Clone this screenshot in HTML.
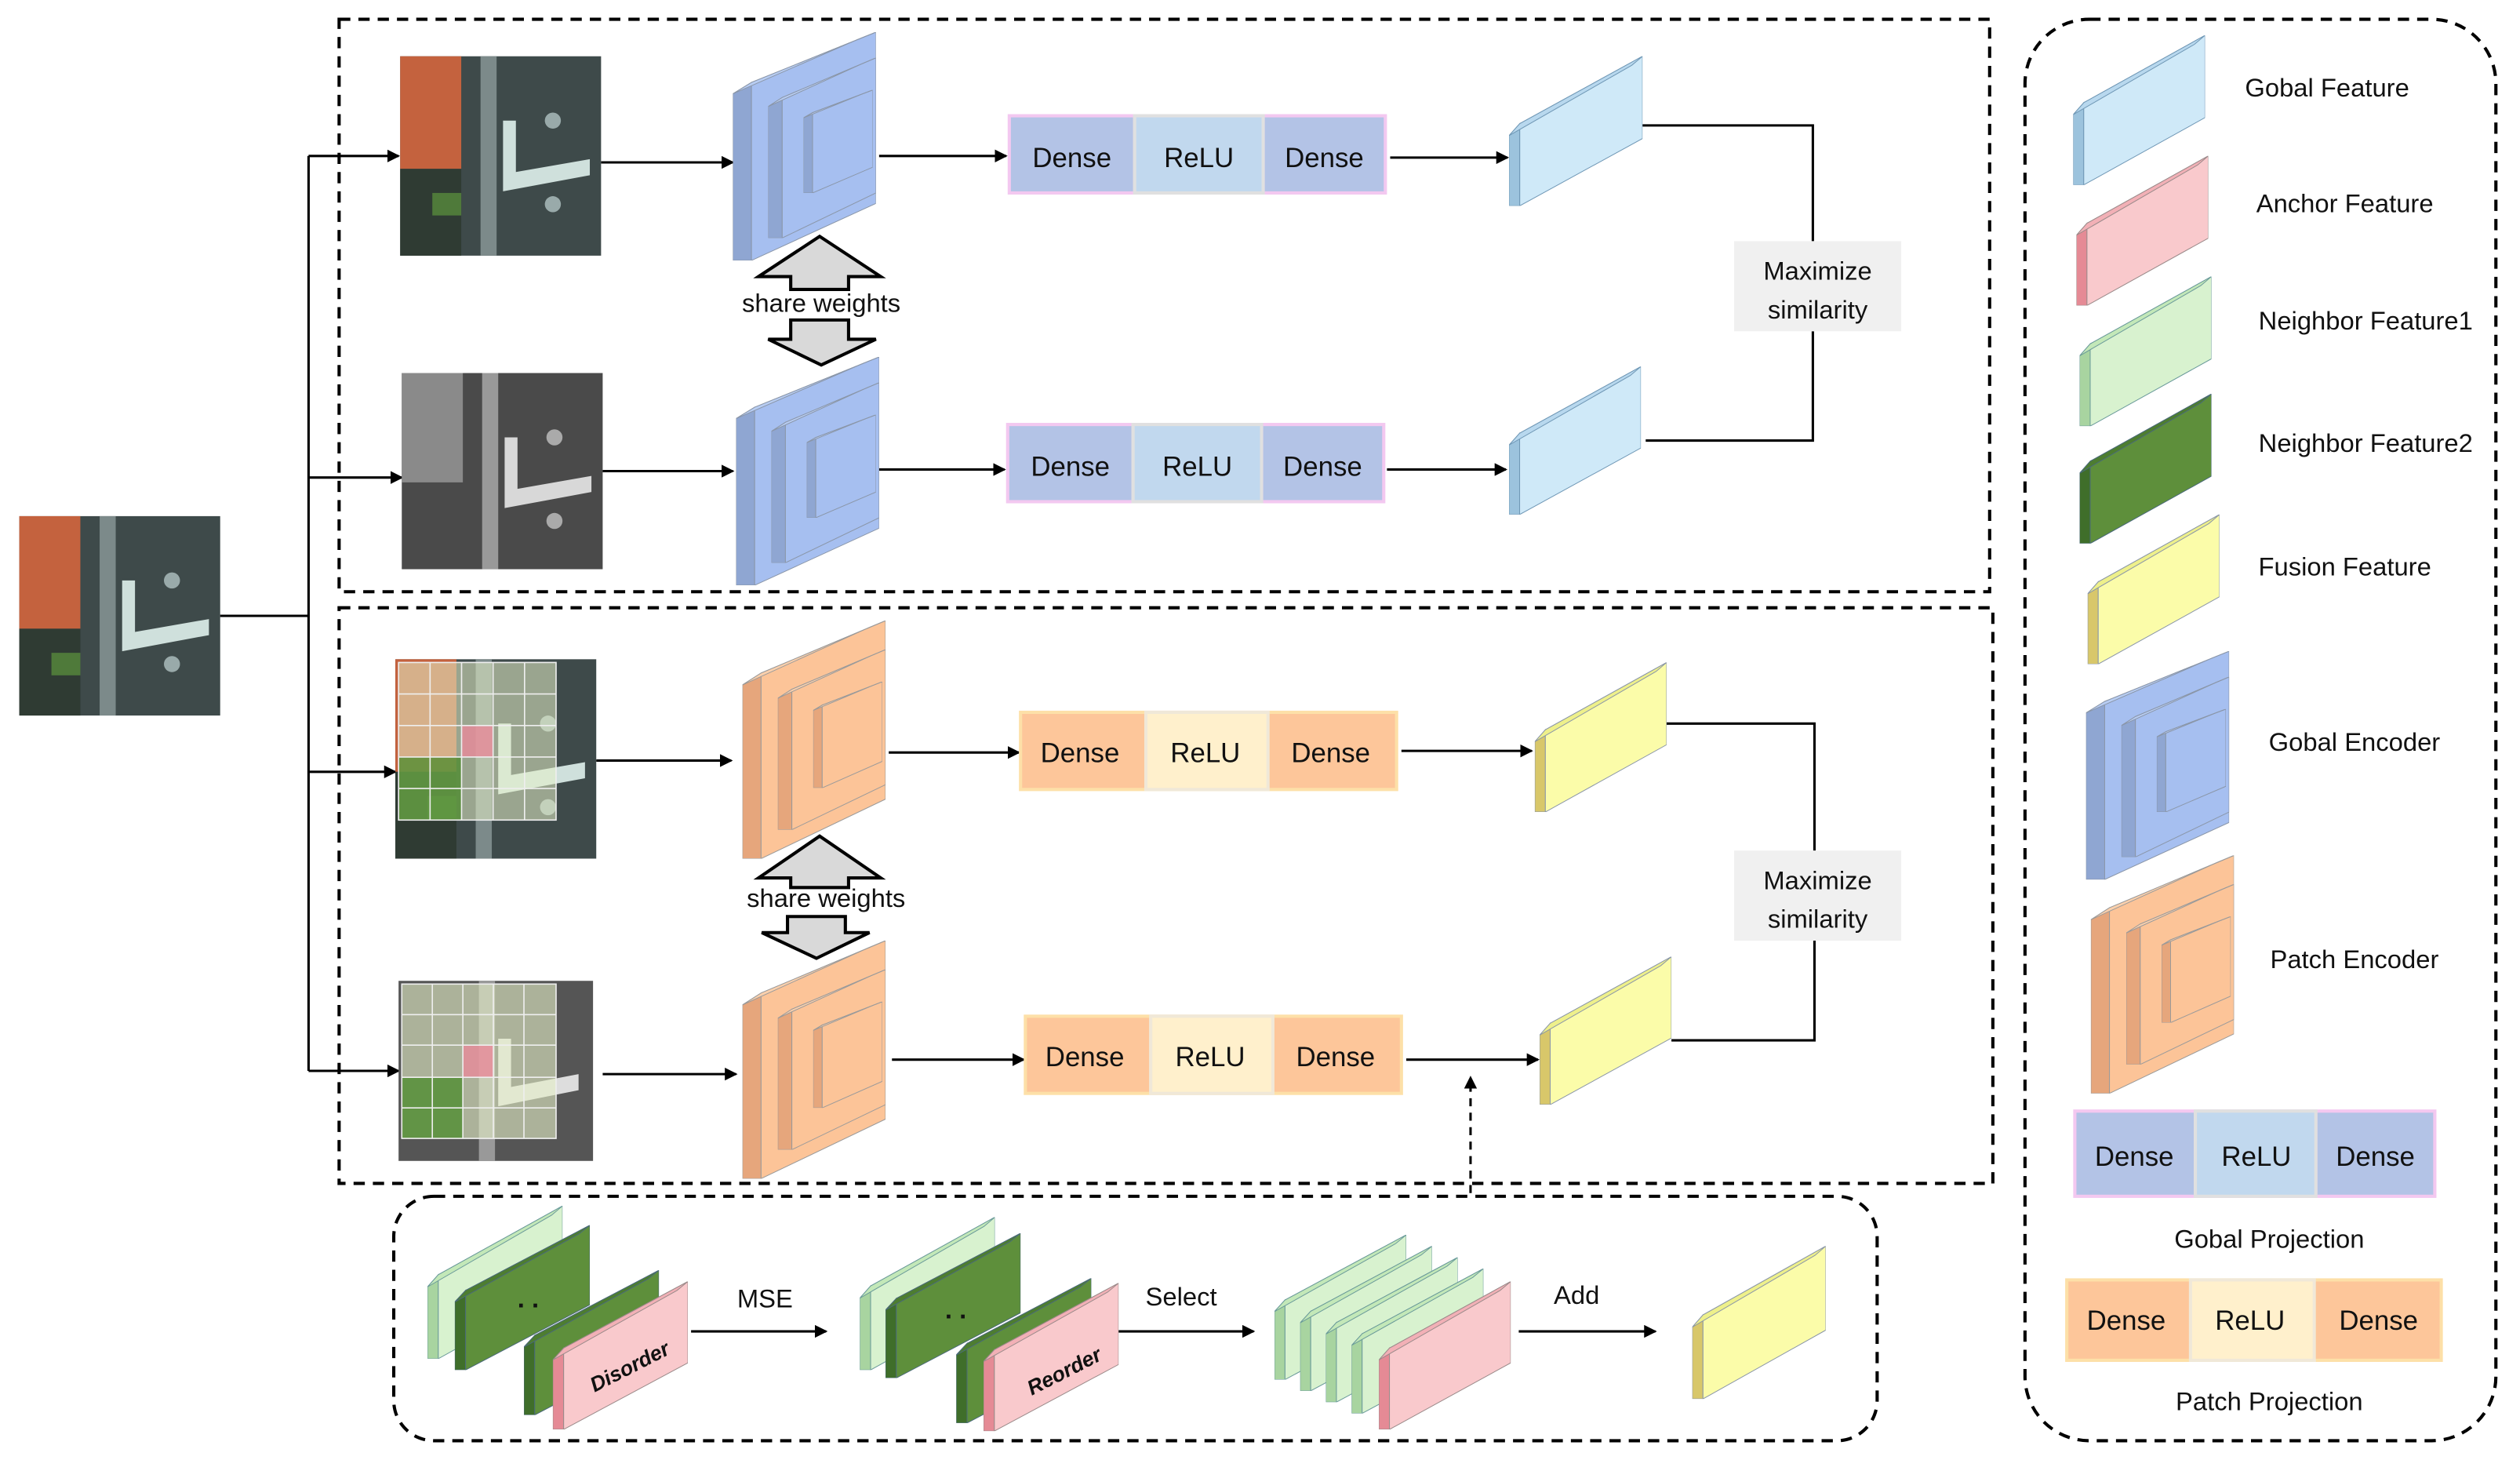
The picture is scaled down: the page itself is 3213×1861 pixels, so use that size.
<!DOCTYPE html>
<html><head><meta charset="utf-8"><style>
html,body{margin:0;padding:0;background:#fff;width:3213px;height:1861px;overflow:hidden}
svg{display:block}
text{font-family:"Liberation Sans","DejaVu Sans",sans-serif;fill:#111}
</style></head><body>
<svg width="3213" height="1861" viewBox="0 0 1568 908" preserveAspectRatio="none" xmlns="http://www.w3.org/2000/svg">
<defs>
<marker id="ah" markerWidth="8" markerHeight="8" refX="7" refY="4" orient="auto" markerUnits="userSpaceOnUse"><path d="M0,0 L8,4 L0,8 z" fill="#000"/></marker>
<symbol id="slabB" viewBox="0 0 100 100" preserveAspectRatio="none"><polygon points="0,53 8,45 8,100 0,100" fill="#9cc3dd" stroke="#6f97b5" vector-effect="non-scaling-stroke"/><polygon points="8,45 100,0 100,55 8,100" fill="#cfe9f8" stroke="#6f97b5" vector-effect="non-scaling-stroke"/><polygon points="0,53 92,6 100,0 8,45" fill="#b8d8ee" stroke="#6f97b5" vector-effect="non-scaling-stroke"/></symbol>
<symbol id="slabP" viewBox="0 0 100 100" preserveAspectRatio="none"><polygon points="0,53 8,45 8,100 0,100" fill="#e58a95" stroke="#9a8a8a" vector-effect="non-scaling-stroke"/><polygon points="8,45 100,0 100,55 8,100" fill="#f9c9cc" stroke="#9a8a8a" vector-effect="non-scaling-stroke"/><polygon points="0,53 92,6 100,0 8,45" fill="#f2b0b6" stroke="#9a8a8a" vector-effect="non-scaling-stroke"/></symbol>
<symbol id="slabG" viewBox="0 0 100 100" preserveAspectRatio="none"><polygon points="0,53 8,45 8,100 0,100" fill="#a8d4a0" stroke="#6a9a9a" vector-effect="non-scaling-stroke"/><polygon points="8,45 100,0 100,55 8,100" fill="#d8f2cf" stroke="#6a9a9a" vector-effect="non-scaling-stroke"/><polygon points="0,53 92,6 100,0 8,45" fill="#c3e8b8" stroke="#6a9a9a" vector-effect="non-scaling-stroke"/></symbol>
<symbol id="slabD" viewBox="0 0 100 100" preserveAspectRatio="none"><polygon points="0,53 8,45 8,100 0,100" fill="#3f6e2a" stroke="#4a6a7a" vector-effect="non-scaling-stroke"/><polygon points="8,45 100,0 100,55 8,100" fill="#5e8f3b" stroke="#4a6a7a" vector-effect="non-scaling-stroke"/><polygon points="0,53 92,6 100,0 8,45" fill="#4d7d30" stroke="#4a6a7a" vector-effect="non-scaling-stroke"/></symbol>
<symbol id="slabY" viewBox="0 0 100 100" preserveAspectRatio="none"><polygon points="0,53 8,45 8,100 0,100" fill="#d8c76a" stroke="#8a96a8" vector-effect="non-scaling-stroke"/><polygon points="8,45 100,0 100,55 8,100" fill="#fbfca9" stroke="#8a96a8" vector-effect="non-scaling-stroke"/><polygon points="0,53 92,6 100,0 8,45" fill="#eef08a" stroke="#8a96a8" vector-effect="non-scaling-stroke"/></symbol>
<symbol id="boxB" viewBox="0 0 100 100" preserveAspectRatio="none"><polygon points="0,27 13,22 13,100 0,100" fill="#8fa6d2" stroke="#8a96a8" vector-effect="non-scaling-stroke"/><polygon points="13,22 100,0 100,75 13,100" fill="#a6bff0" stroke="#8a96a8" vector-effect="non-scaling-stroke"/><polygon points="0,27 88,3 100,0 13,22" fill="#b8cdf3" stroke="#8a96a8" vector-effect="non-scaling-stroke"/></symbol>
<symbol id="boxO" viewBox="0 0 100 100" preserveAspectRatio="none"><polygon points="0,27 13,22 13,100 0,100" fill="#e6a67c" stroke="#9a9a9a" vector-effect="non-scaling-stroke"/><polygon points="13,22 100,0 100,75 13,100" fill="#fcc498" stroke="#9a9a9a" vector-effect="non-scaling-stroke"/><polygon points="0,27 88,3 100,0 13,22" fill="#fbd0ac" stroke="#9a9a9a" vector-effect="non-scaling-stroke"/></symbol>
<g id="encB"><use href="#boxB" x="0" y="0" width="89" height="142"/><use href="#boxB" x="22" y="16" width="67" height="112"/><use href="#boxB" x="44" y="36" width="43" height="64"/></g>
<g id="encO"><use href="#boxO" x="0" y="0" width="89" height="148"/><use href="#boxO" x="22" y="18" width="67" height="112"/><use href="#boxO" x="44" y="38" width="43" height="66"/></g>
<g id="imgColor"><rect width="125" height="124" fill="#3e4a4a"/><rect x="0" y="0" width="38" height="70" fill="#c4623e"/><rect x="0" y="70" width="38" height="54" fill="#2f3b33"/><rect x="50" y="0" width="10" height="124" fill="#7c8a8a"/><path d="M64,40 L72,40 L72,72 L118,64 L118,74 L64,84 z" fill="#cfe0dc"/><rect x="20" y="85" width="18" height="14" fill="#4f7a3a"/><circle cx="95" cy="40" r="5" fill="#9aa"/><circle cx="95" cy="92" r="5" fill="#9aa"/></g>
<g id="imgGray"><rect width="125" height="122" fill="#4a4a4a"/><rect x="0" y="0" width="38" height="68" fill="#8a8a8a"/><rect x="50" y="0" width="10" height="122" fill="#999"/><path d="M64,40 L72,40 L72,72 L118,64 L118,74 L64,84 z" fill="#d8d8d8"/><circle cx="95" cy="40" r="5" fill="#aaa"/><circle cx="95" cy="92" r="5" fill="#aaa"/></g>
</defs>

<g fill="none" stroke="#000" stroke-width="2" stroke-dasharray="7,5">
<rect x="211" y="12" width="1027" height="356"/>
<rect x="211" y="378" width="1029" height="358"/>
<rect x="245" y="744" width="923" height="152" rx="25"/>
<rect x="1260" y="12" width="293" height="884" rx="40"/>
</g>

<use href="#imgColor" x="12" y="321"/>
<g stroke="#000" stroke-width="1.5" fill="none">
<line x1="137" y1="383" x2="192" y2="383"/>
<line x1="192" y1="97" x2="192" y2="666"/>
<line x1="192" y1="97" x2="248" y2="97" marker-end="url(#ah)"/>
<line x1="192" y1="297" x2="250" y2="297" marker-end="url(#ah)"/>
<line x1="192" y1="480" x2="246" y2="480" marker-end="url(#ah)"/>
<line x1="192" y1="666" x2="248" y2="666" marker-end="url(#ah)"/>
<line x1="374" y1="101" x2="456" y2="101" marker-end="url(#ah)"/>
<line x1="375" y1="293" x2="456" y2="293" marker-end="url(#ah)"/>
<line x1="371" y1="473" x2="455" y2="473" marker-end="url(#ah)"/>
<line x1="375" y1="668" x2="458" y2="668" marker-end="url(#ah)"/>
<line x1="547" y1="97" x2="626" y2="97" marker-end="url(#ah)"/>
<line x1="547" y1="292" x2="625" y2="292" marker-end="url(#ah)"/>
<line x1="553" y1="468" x2="634" y2="468" marker-end="url(#ah)"/>
<line x1="555" y1="659" x2="637" y2="659" marker-end="url(#ah)"/>
<line x1="865" y1="98" x2="938" y2="98" marker-end="url(#ah)"/>
<line x1="863" y1="292" x2="937" y2="292" marker-end="url(#ah)"/>
<line x1="872" y1="467" x2="953" y2="467" marker-end="url(#ah)"/>
<line x1="875" y1="659" x2="957" y2="659" marker-end="url(#ah)"/>
<polyline points="1022,78 1128,78 1128,150"/>
<polyline points="1128,206 1128,274 1024,274"/>
<polyline points="1037,450 1129,450 1129,529"/>
<polyline points="1129,585 1129,647 1040,647"/>
<line x1="915" y1="742" x2="915" y2="670" stroke-dasharray="5,4" marker-end="url(#ah)"/>
<line x1="430" y1="828" x2="514" y2="828" marker-end="url(#ah)"/>
<line x1="696" y1="828" x2="780" y2="828" marker-end="url(#ah)"/>
<line x1="945" y1="828" x2="1030" y2="828" marker-end="url(#ah)"/>
</g>

<use href="#imgColor" x="249" y="35"/>
<use href="#imgGray" x="250" y="232"/>
<g transform="translate(246,410)"><use href="#imgColor"/>
<rect x="2" y="2" width="98" height="98" fill="#e6f0c8" opacity="0.55"/>
<rect x="2" y="61" width="39" height="39" fill="#4a8a2a" opacity="0.75"/>
<rect x="41" y="41" width="20" height="20" fill="#e88a9a" opacity="0.8"/>
<g stroke="#eee" stroke-width="0.8" fill="none"><rect x="2" y="2" width="98" height="98"/><path d="M21.6,2V100M41.2,2V100M60.8,2V100M80.4,2V100M2,21.6H100M2,41.2H100M2,60.8H100M2,80.4H100"/></g></g>
<g transform="translate(248,610)"><rect width="121" height="112" fill="#555"/><rect x="50" y="0" width="10" height="112" fill="#999"/><path d="M62,36 L70,36 L70,66 L112,58 L112,68 L62,78 z" fill="#ddd"/>
<rect x="2" y="2" width="96" height="96" fill="#e6f0c8" opacity="0.6"/>
<rect x="2" y="60" width="38" height="38" fill="#4a8a2a" opacity="0.75"/>
<rect x="40" y="40" width="19" height="20" fill="#e88a9a" opacity="0.8"/>
<g stroke="#eee" stroke-width="0.8" fill="none"><rect x="2" y="2" width="96" height="96"/><path d="M21,2V98M40,2V98M59,2V98M78,2V98M2,21H98M2,40H98M2,60H98M2,79H98"/></g></g>

<use href="#encB" x="456" y="20"/>
<use href="#encB" x="458" y="222"/>
<use href="#encO" x="462" y="386"/>
<use href="#encO" x="462" y="585"/>

<g fill="#d9d9d9" stroke="#000" stroke-width="2">
<polygon points="472,172 510,147 548,172 528,172 528,180 492,180 492,172"/>
<polygon points="492,199 528,199 528,211 545,211 511,227 478,211 492,211"/>
<polygon points="472,546 510,520 548,546 528,546 528,552 492,552 492,546"/>
<polygon points="490,570 526,570 526,580 541,580 508,596 474,580 490,580"/>
</g>
<text x="511" y="194" font-size="16" text-anchor="middle">share weights</text>
<text x="514" y="564" font-size="16" text-anchor="middle">share weights</text>

<g font-size="17" text-anchor="middle">
<g transform="translate(627,71)"><rect width="236" height="50" fill="#f3c8f0"/><rect x="2" y="2" width="76" height="46" fill="#b3c3e6"/><rect x="78" y="0" width="82" height="50" fill="#e0e0e0"/><rect x="80" y="2" width="78" height="46" fill="#c1d8ee"/><rect x="160" y="2" width="74" height="46" fill="#b3c3e6"/><text x="40" y="33">Dense</text><text x="119" y="33">ReLU</text><text x="197" y="33">Dense</text></g>
<g transform="translate(626,263)"><rect width="236" height="50" fill="#f3c8f0"/><rect x="2" y="2" width="76" height="46" fill="#b3c3e6"/><rect x="78" y="0" width="82" height="50" fill="#e0e0e0"/><rect x="80" y="2" width="78" height="46" fill="#c1d8ee"/><rect x="160" y="2" width="74" height="46" fill="#b3c3e6"/><text x="40" y="33">Dense</text><text x="119" y="33">ReLU</text><text x="197" y="33">Dense</text></g>
<g transform="translate(634,442)"><rect width="236" height="50" fill="#fde0a8"/><rect x="2" y="2" width="76" height="46" fill="#fdc69a"/><rect x="78" y="0" width="78" height="50" fill="#f0e8d8"/><rect x="80" y="2" width="74" height="46" fill="#fff0cc"/><rect x="156" y="2" width="78" height="46" fill="#fdc69a"/><text x="38" y="32">Dense</text><text x="116" y="32">ReLU</text><text x="194" y="32">Dense</text></g>
<g transform="translate(637,631)"><rect width="236" height="50" fill="#fde0a8"/><rect x="2" y="2" width="76" height="46" fill="#fdc69a"/><rect x="78" y="0" width="78" height="50" fill="#f0e8d8"/><rect x="80" y="2" width="74" height="46" fill="#fff0cc"/><rect x="156" y="2" width="78" height="46" fill="#fdc69a"/><text x="38" y="32">Dense</text><text x="116" y="32">ReLU</text><text x="194" y="32">Dense</text></g>
</g>

<use href="#slabB" x="939" y="35" width="83" height="93"/>
<use href="#slabB" x="939" y="228" width="82" height="92"/>
<use href="#slabY" x="955" y="412" width="82" height="93"/>
<use href="#slabY" x="958" y="595" width="82" height="92"/>

<rect x="1079" y="150" width="104" height="56" fill="#f0f0f0"/>
<text x="1131" y="174" font-size="16" text-anchor="middle">Maximize</text><text x="1131" y="198" font-size="16" text-anchor="middle">similarity</text>
<rect x="1079" y="529" width="104" height="56" fill="#f0f0f0"/>
<text x="1131" y="553" font-size="16" text-anchor="middle">Maximize</text><text x="1131" y="577" font-size="16" text-anchor="middle">similarity</text>

<use href="#slabG" x="266" y="750" width="84" height="95"/>
<use href="#slabD" x="283" y="762" width="84" height="90"/>
<text x="322" y="813" font-size="16" font-weight="bold">. .</text>
<use href="#slabD" x="326" y="790" width="84" height="90"/>
<use href="#slabP" x="344" y="797" width="84" height="92"/>
<text x="0" y="0" font-size="13" font-weight="bold" font-style="italic" transform="translate(370,866) rotate(-27)">Disorder</text>
<text x="476" y="813" font-size="16" text-anchor="middle">MSE</text>

<use href="#slabG" x="535" y="757" width="84" height="95"/>
<use href="#slabD" x="551" y="767" width="84" height="90"/>
<text x="588" y="820" font-size="16" font-weight="bold">. .</text>
<use href="#slabD" x="595" y="795" width="84" height="90"/>
<use href="#slabP" x="612" y="798" width="84" height="92"/>
<text x="0" y="0" font-size="13" font-weight="bold" font-style="italic" transform="translate(642,868) rotate(-27)">Reorder</text>
<text x="735" y="812" font-size="16" text-anchor="middle">Select</text>

<use href="#slabG" x="793" y="768" width="82" height="90"/>
<use href="#slabG" x="809" y="775" width="82" height="90"/>
<use href="#slabG" x="825" y="782" width="82" height="90"/>
<use href="#slabG" x="841" y="789" width="82" height="90"/>
<use href="#slabP" x="858" y="797" width="82" height="92"/>
<text x="981" y="811" font-size="16" text-anchor="middle">Add</text>
<use href="#slabY" x="1053" y="775" width="83" height="95"/>

<use href="#slabB" x="1290" y="22" width="82" height="93"/>
<use href="#slabP" x="1292" y="97" width="82" height="93"/>
<use href="#slabG" x="1294" y="172" width="82" height="93"/>
<use href="#slabD" x="1294" y="245" width="82" height="93"/>
<use href="#slabY" x="1299" y="320" width="82" height="93"/>
<use href="#encB" x="1298" y="405"/>
<use href="#encO" x="1301" y="532"/>
<g font-size="16" text-anchor="middle">
<text x="1448" y="60">Gobal Feature</text>
<text x="1459" y="132">Anchor Feature</text>
<text x="1472" y="205">Neighbor Feature1</text>
<text x="1472" y="281">Neighbor Feature2</text>
<text x="1459" y="358">Fusion Feature</text>
<text x="1465" y="467">Gobal Encoder</text>
<text x="1465" y="602">Patch Encoder</text>
<text x="1412" y="776">Gobal Projection</text>
<text x="1412" y="877">Patch Projection</text>
</g>
<g font-size="17" text-anchor="middle">
<g transform="translate(1290,690)"><rect width="226" height="55" fill="#f3c8f0"/><rect x="2" y="2" width="73" height="51" fill="#b3c3e6"/><rect x="75" y="0" width="77" height="55" fill="#e0e0e0"/><rect x="77" y="2" width="73" height="51" fill="#c1d8ee"/><rect x="152" y="2" width="72" height="51" fill="#b3c3e6"/><text x="38" y="35">Dense</text><text x="114" y="35">ReLU</text><text x="188" y="35">Dense</text></g>
<g transform="translate(1285,795)"><rect width="235" height="52" fill="#fde0a8"/><rect x="2" y="2" width="75" height="48" fill="#fdc69a"/><rect x="77" y="0" width="79" height="52" fill="#f0e8d8"/><rect x="79" y="2" width="75" height="48" fill="#fff0cc"/><rect x="156" y="2" width="77" height="48" fill="#fdc69a"/><text x="38" y="32">Dense</text><text x="115" y="32">ReLU</text><text x="195" y="32">Dense</text></g>
</g>
</svg>
</body></html>
